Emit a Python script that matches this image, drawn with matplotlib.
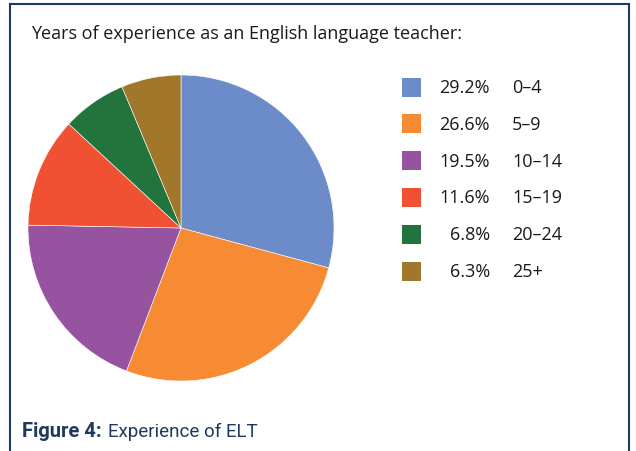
import matplotlib
matplotlib.use("Agg")
import matplotlib.pyplot as plt
from matplotlib.patches import Rectangle

categories = ["0–4", "5–9", "10–14", "15–19", "20–24", "25+"]
values = [29.2, 26.6, 19.5, 11.6, 6.8, 6.3]
colors = ["#6B8CC8", "#F68B33", "#9654A0", "#EF5132", "#23733C", "#A0772B"]

W, H = 636, 452
fig = plt.figure(figsize=(W / 100, H / 100), dpi=100)
fig.patch.set_facecolor("white")
plt.rcParams["font.family"] = ["Open Sans", "DejaVu Sans"]

def fx(x): return x / W
def fy(y): return 1 - y / H

# frame
navy = "#1F3A5F"
fig.add_artist(plt.Line2D([fx(10), fx(10)], [fy(5), 0], color=navy, lw=1.5, transform=fig.transFigure))
fig.add_artist(plt.Line2D([fx(629), fx(629)], [fy(5), 0], color=navy, lw=1.5, transform=fig.transFigure))
fig.add_artist(plt.Line2D([fx(10), fx(629)], [fy(5), fy(5)], color=navy, lw=1.5, transform=fig.transFigure))

fig.text(fx(31), fy(34), "Years of experience as an English language teacher:",
         fontsize=13, color="#1a1a1a", va="center", ha="left")

cx, cy, r = 181, 229, 153
ax = fig.add_axes([fx(cx - r), fy(cy + r), (2 * r) / W, (2 * r) / H])
ax.pie(values, colors=colors, startangle=90, counterclock=False,
       wedgeprops=dict(linewidth=0.4, edgecolor="white"))
ax.set_aspect("equal")
ax.set_xlim(-1, 1); ax.set_ylim(-1, 1)
ax.axis("off")

y0, dy = 88, 36.8
for i, (c, v, col) in enumerate(zip(categories, values, colors)):
    y = y0 + i * dy
    fig.add_artist(Rectangle((fx(402), fy(y + 9.5)), 19 / W, 19 / H,
                             transform=fig.transFigure, facecolor=col, edgecolor="none"))
    fig.text(fx(490), fy(y), f"{v:.1f}%", fontsize=13, color="#1a1a1a",
             ha="right", va="center")
    fig.text(fx(512), fy(y), c, fontsize=13, color="#1a1a1a",
             ha="left", va="center")

fig.text(fx(22), fy(432), "Figure 4:", fontsize=14.5, fontweight="bold",
         color=navy, ha="left", va="center", family=["Roboto", "DejaVu Sans"])
fig.text(fx(108), fy(432), "Experience of ELT", fontsize=13.5,
         color=navy, ha="left", va="center", family=["Roboto", "DejaVu Sans"])

fig.savefig("out.png", dpi=100)
